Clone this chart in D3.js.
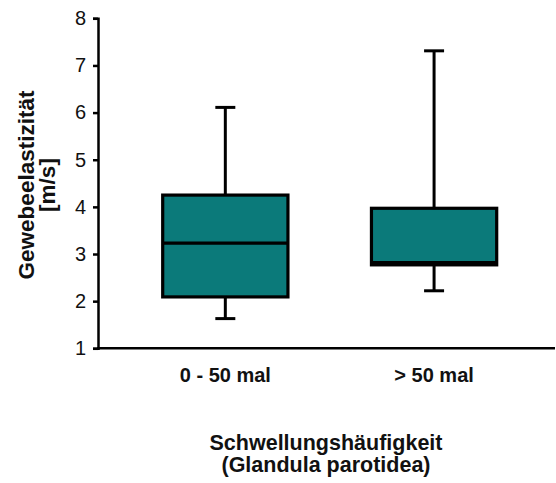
<!DOCTYPE html>
<html>
<head>
<meta charset="utf-8">
<script src="https://cdn.jsdelivr.net/npm/d3@7"></script>
<style>
  html, body { margin: 0; padding: 0; background: #fff; }
  svg { display: block; }
</style>
</head>
<body>
<svg id="chart" width="556" height="483"></svg>
<script>
// Data
const categories = ["0 - 50 mal", "> 50 mal"];
const whiskerLow  = [1.63, 2.22];
const q1          = [2.09, 2.77];
const median      = [3.23, 2.82];
const q3          = [4.25, 3.97];
const whiskerHigh = [6.11, 7.31];
const yTicks = [1, 2, 3, 4, 5, 6, 7, 8];
const yTitle = ["Gewebeelastizität", "[m/s]"];
const xTitle = ["Schwellungshäufigkeit", "(Glandula parotidea)"];

const svg = d3.select("#chart");
const font = "Arial, 'Liberation Sans', Helvetica, sans-serif";
const fill = "#0b7a7a";

const y = d3.scaleLinear().domain([1, 8]).range([348.3, 18.3]);
const x = d3.scaleBand().domain(categories).range([162.7, 496.7]).paddingInner(0.4).paddingOuter(0);
const axisX0 = 98, axisX1 = 555;

// Y axis
const yAxis = svg.append("g")
  .attr("transform", `translate(${axisX0},0)`)
  .call(d3.axisLeft(y).tickValues(yTicks).tickFormat(d3.format("d")).tickSizeInner(5).tickSizeOuter(5).tickPadding(7));
yAxis.selectAll("path, line").attr("stroke", "#000").attr("stroke-width", 2.5);
yAxis.selectAll("text").attr("font-family", font).attr("font-size", 20).attr("fill", "#111");

// X axis baseline
svg.append("line")
  .attr("x1", axisX0 - 1).attr("x2", axisX1)
  .attr("y1", y(1)).attr("y2", y(1))
  .attr("stroke", "#000").attr("stroke-width", 2.5);

// Category labels
const xAxis = svg.append("g")
  .attr("transform", `translate(0,${y(1)})`)
  .call(d3.axisBottom(x).tickSize(0).tickPadding(20));
xAxis.select(".domain").remove();
xAxis.selectAll("text").attr("font-family", font).attr("font-size", 20)
  .attr("font-weight", "bold").attr("fill", "#111");

// Boxes
const data = categories.map((c, i) => ({
  c, lo: whiskerLow[i], q1: q1[i], med: median[i], q3: q3[i], hi: whiskerHigh[i]
}));
const capW = 20;
const g = svg.append("g").attr("stroke", "#000").attr("stroke-width", 3);
const boxes = g.selectAll("g.box").data(data).join("g").attr("class", "box");
boxes.each(function(d) {
  const s = d3.select(this);
  const cx = x(d.c) + x.bandwidth() / 2;
  // whiskers
  s.append("line").attr("x1", cx).attr("x2", cx).attr("y1", y(d.q3)).attr("y2", y(d.hi));
  s.append("line").attr("x1", cx).attr("x2", cx).attr("y1", y(d.q1)).attr("y2", y(d.lo));
  s.append("line").attr("x1", cx - capW / 2).attr("x2", cx + capW / 2).attr("y1", y(d.hi)).attr("y2", y(d.hi));
  s.append("line").attr("x1", cx - capW / 2).attr("x2", cx + capW / 2).attr("y1", y(d.lo)).attr("y2", y(d.lo));
  // box
  s.append("rect")
    .attr("x", x(d.c)).attr("width", x.bandwidth())
    .attr("y", y(d.q3)).attr("height", y(d.q1) - y(d.q3))
    .attr("fill", fill).attr("stroke-width", 3.2);
  // median
  s.append("line").attr("x1", x(d.c)).attr("x2", x(d.c) + x.bandwidth())
    .attr("y1", y(d.med)).attr("y2", y(d.med)).attr("stroke-width", 3.2);
});

// Y title
const yt = svg.append("text")
  .attr("transform", "translate(34,185) rotate(-90)")
  .attr("text-anchor", "middle")
  .attr("font-family", font).attr("font-size", 22.5).attr("font-weight", "bold").attr("fill", "#111");
yt.selectAll("tspan").data(yTitle).join("tspan")
  .attr("x", 0).attr("dy", (d, i) => i === 0 ? 0 : 21).text(d => d);

// X title
const xt = svg.append("text")
  .attr("text-anchor", "middle")
  .attr("font-family", font).attr("font-size", 21.5).attr("font-weight", "bold").attr("fill", "#111");
xt.selectAll("tspan").data(xTitle).join("tspan")
  .attr("x", 326).attr("y", (d, i) => 450 + i * 22).text(d => d);
</script>
</body>
</html>
